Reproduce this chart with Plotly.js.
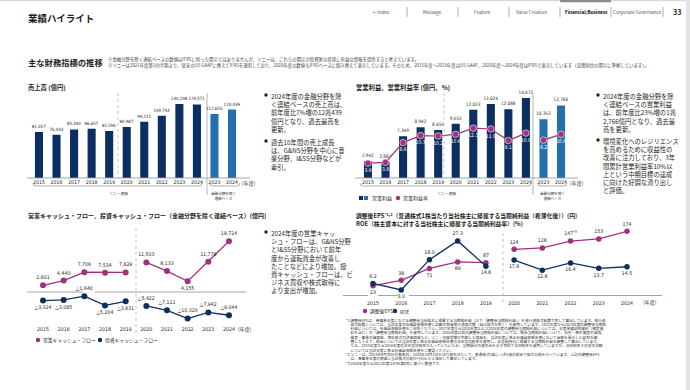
<!DOCTYPE html>
<html><head><meta charset="utf-8">
<script src="https://cdn.plot.ly/plotly-3.0.1.min.js"></script>
<style>html,body{margin:0;padding:0;background:#fff;}#chart{width:690px;height:390px;}</style>
</head><body><div id="chart"></div>
<script>
// ---------------- data ----------------
const salesCats   = ["2015","2016","2017","2018","2019","2020","2021","2022","2023","2024","2023x","2024x"];
const salesLabels = ["2015","2016","2017","2018","2019","2020","2021","2022","2023","2024","2023","2024"];
const sales    = [81057,76033,85440,86657,82596,89987,99215,109744,130208,129571,112650,120439];
const opIncome = [2942,2887,7349,8942,8455,9553,12023,13024,12088,14072,10353,12766];
const opMargin = [3.6,3.8,8.6,10.3,10.2,10.6,12.1,11.9,9.1,10.9,9.2,10.6];
const years    = ["2015","2016","2017","2018","2019","2020","2021","2022","2023","2024"];
const opCF     = [2601,4440,7706,7534,7629,11503,8133,4155,11778,19724];
const invCF    = [-3324,-3085,-1640,-5204,-3631,-5422,-7111,-10320,-7942,-9044];
const eps      = [23,38,71,89,87,124,128,147,153,174];
const epsNotes = ["","","","","","","","*3","",""];
const roe      = [6.2,3.0,18.0,27.3,14.8,17.8,12.8,16.4,13.7,14.5];

// ---------------- helpers / styles ----------------
const W=690,H=390;
const px=x=>x/W, py=y=>1-y/H;
const FONT="'Noto Sans CJK JP','Noto Sans',sans-serif";
const NUMFONT="'Liberation Sans Narrow','DejaVu Sans Condensed','Noto Sans CJK JP',sans-serif";
const NAVY='#0c2f62', BLUE='#2370ad', MAG='#a3307f', LINE='#9b9b9b', TXT='#231f20';
const fmt=v=>v.toLocaleString('en-US');
const cfFmt=v=>v<0?'△'+fmt(-v):fmt(v);
const SPLIT=5, GROUP=10;

function ann(x,y,text,size,o={}){
  return {xref:'paper',yref:'paper',x:px(x),y:py(y),text,showarrow:false,
    xanchor:o.xa||'left',yanchor:o.ya||'middle',align:o.align||'left',borderpad:0,
    font:{family:FONT,size,color:o.color||TXT,weight:o.weight||'normal'}};
}
function ln(x0,y0,x1,y1,color,width,dash){
  return {type:'line',xref:'paper',yref:'paper',x0:px(x0),y0:py(y0),x1:px(x1),y1:py(y1),
    line:{color,width,dash:dash||'solid'},layer:'above'};
}
function rect(x0,y0,x1,y1,color){
  return {type:'rect',xref:'paper',yref:'paper',x0:px(x0),y0:py(y0),x1:px(x1),y1:py(y1),
    line:{width:0},fillcolor:color};
}
function circ(cx,cy,r,color){
  return {type:'circle',xref:'paper',yref:'paper',x0:px(cx-r),y0:py(cy+r),x1:px(cx+r),y1:py(cy-r),
    line:{width:0},fillcolor:color};
}
function bracket(x0,x1,y){
  const r=3;
  const P=(x,yy)=>px(x)+','+py(yy);
  return {type:'path',xref:'paper',yref:'paper',
    path:'M'+P(x0,y-r)+' Q'+P(x0,y)+' '+P(x0+r,y)+' L'+P(x1-r,y)+' Q'+P(x1,y)+' '+P(x1,y-r),
    line:{color:'#777',width:0.6}};
}

const tickFont={family:NUMFONT,size:5.2,color:TXT};
function catX(domain,anchor,cats,labels,standoff){
  return {domain:[px(domain[0]),px(domain[1])],anchor,type:'category',categoryarray:cats,
    tickmode:'array',tickvals:cats,ticktext:labels,range:[-0.5,cats.length-0.5],
    showgrid:false,zeroline:false,showline:false,ticks:'',tickangle:0,tickfont:tickFont,
    ticklabelstandoff:standoff||0,fixedrange:true};
}
function valY(top,bottom,range,anchor,extra){
  return Object.assign({domain:[py(bottom),py(top)],anchor,range,visible:false,fixedrange:true},extra||{});
}

const barColors = salesCats.map((c,i)=>i<GROUP?NAVY:BLUE);
const txtFont=(c,s)=>({family:NUMFONT,size:s||5.2,color:c||TXT});

const traces=[];
// Chart 1: sales
traces.push({type:'bar',x:salesCats,y:sales,xaxis:'x',yaxis:'y',width:0.46,
  marker:{color:barColors},texttemplate:'%{y:,}',textposition:'outside',textfont:txtFont(TXT,4.4),
  constraintext:'none',cliponaxis:false,hoverinfo:'skip'});
// Chart 2: operating income + margin
traces.push({type:'bar',x:salesCats,y:opIncome,xaxis:'x2',yaxis:'y2',width:0.46,
  marker:{color:barColors},texttemplate:'%{y:,}',textposition:'outside',textfont:txtFont(TXT,4.6),
  constraintext:'none',cliponaxis:false,hoverinfo:'skip'});
[[0,GROUP],[GROUP,salesCats.length]].forEach(([a,b])=>{
  traces.push({type:'scatter',mode:'lines+markers+text',x:salesCats.slice(a,b),y:opMargin.slice(a,b),
    xaxis:'x2',yaxis:'y3',line:{color:MAG,width:1.2},
    marker:{color:MAG,size:6.5,line:{color:'#fff',width:0.6}},
    text:opMargin.slice(a,b).map(v=>v.toFixed(1)),textposition:'bottom center',
    textfont:txtFont('#ffffff',5),cliponaxis:false,hoverinfo:'skip'});
});
// Chart 3: cash flows
const opCFPos=['top center','top center','top center','top center','top center','top center','top center','bottom center','top center','top center'];
const invCFPos=['bottom center','bottom center','top center','bottom center','bottom center','top center','top center','top center','top center','top center'];
[[0,SPLIT],[SPLIT,years.length]].forEach(([a,b])=>{
  traces.push({type:'scatter',mode:'lines+markers+text',x:years.slice(a,b),y:opCF.slice(a,b),
    xaxis:'x3',yaxis:'y4',line:{color:MAG,width:1.3},marker:{color:MAG,size:6},
    text:opCF.slice(a,b).map(cfFmt),textposition:opCFPos.slice(a,b),textfont:txtFont(),
    cliponaxis:false,hoverinfo:'skip'});
  traces.push({type:'scatter',mode:'lines+markers+text',x:years.slice(a,b),y:invCF.slice(a,b),
    xaxis:'x3',yaxis:'y4',line:{color:NAVY,width:1.3},marker:{color:NAVY,size:6},
    text:invCF.slice(a,b).map(cfFmt),textposition:invCFPos.slice(a,b),textfont:txtFont(),
    cliponaxis:false,hoverinfo:'skip'});
});
// Chart 4: EPS / ROE
const epsPos=['bottom center','top center','bottom center','bottom center','top center','top center','top center','top center','top center','top center'];
const roePos=['top center','bottom center','top center','top center','bottom center','bottom center','bottom center','bottom center','bottom center','bottom center'];
[[0,SPLIT],[SPLIT,years.length]].forEach(([a,b])=>{
  traces.push({type:'scatter',mode:'lines+markers+text',x:years.slice(a,b),y:eps.slice(a,b),
    xaxis:'x4',yaxis:'y5',line:{color:MAG,width:1.3},marker:{color:MAG,size:5.5},
    text:eps.slice(a,b).map((v,i)=>String(v)+(epsNotes[a+i]?'<sup>'+epsNotes[a+i]+'</sup>':'')),
    textposition:epsPos.slice(a,b),textfont:txtFont(),cliponaxis:false,hoverinfo:'skip'});
  traces.push({type:'scatter',mode:'lines+markers+text',x:years.slice(a,b),y:roe.slice(a,b),
    xaxis:'x4',yaxis:'y6',line:{color:NAVY,width:1.3},marker:{color:NAVY,size:5.5},
    text:roe.slice(a,b).map(v=>v.toFixed(1)),textposition:roePos.slice(a,b),textfont:txtFont(),
    cliponaxis:false,hoverinfo:'skip'});
});

// ---------------- annotations ----------------
const A=[];
// header
A.push(ann(27,18,'業績ハイライト',9.5,{weight:'bold'}));
const nav=[['←Index',381],['Message',432],['Feature',483],['Value Creation',531],['Financial/Business',586],['Corporate Governance',637]];
nav.forEach(([t,x])=>A.push(ann(x,12,t,4.6,{xa:'center',color:t==='Financial/Business'?'#000':'#555',weight:t==='Financial/Business'?'bold':'normal'})));
A.push(ann(677,12,'33',7,{xa:'center',weight:'bold'}));
A.push(ann(27,62,'主な財務指標の推移',8.3,{weight:'bold'}));
A.push(ann(107,59,'※金融分野を除く連結ベースの数値はIFRSに則った開示ではありませんが、ソニーは、これらの開示が投資家の皆様に有益な情報を提供すると考えています。',4.4,{color:'#444'}));
A.push(ann(107,65.5,'※ソニーは2021年度第1四半期より、従来のUS GAAPに替えてIFRSを適用しており、2020年度の数値もIFRSベースに組み替えて表示しています。そのため、2015年度～2019年度はUS GAAP、2020年度～2024年度はIFRSで表示しています（決算短信の開示に準拠しています）。',4.4,{color:'#444'}));

// chart titles
A.push(ann(27,88,'売上高 (億円)',6.3,{weight:'bold'}));
A.push(ann(355,88,'営業利益、営業利益率 (億円、%)',6.3,{weight:'bold'}));
A.push(ann(27,215,'営業キャッシュ・フロー、投資キャッシュ・フロー（金融分野を除く連結ベース）(億円)',6,{weight:'bold'}));
A.push(ann(355,215,'調整後EPS<sup>*1,2</sup>（普通株式1株当たり当社株主に帰属する当期純利益（希薄化後））(円)',5.8,{weight:'bold'}));
A.push(ann(355,224,'ROE（株主資本に対する当社株主に帰属する当期純利益率）(%)',5.8,{weight:'bold'}));

// year units
A.push(ann(241,183,'(年度)',5));
A.push(ann(569,183,'(年度)',5));
A.push(ann(237,329,'(年度)',5));
A.push(ann(642,302,'(年度)',5));

// bracket labels
A.push(ann(118,193,'ソニー連結',3.8,{xa:'center'}));
A.push(ann(223,196,'金融分野を除く<br>連結ベース',3.6,{xa:'center',align:'center'}));
A.push(ann(446,193,'ソニー連結',3.8,{xa:'center'}));
A.push(ann(552,196,'金融分野を除く<br>連結ベース',3.6,{xa:'center',align:'center'}));

// bullets
const para=(x,yTop,lines)=>A.push(ann(x,yTop,lines.join('<br>'),6.3,{ya:'top'}));
para(270,91,['2024年度の金融分野を除','く連結ベースの売上高は、','前年度比7%増の12兆439','億円となり、過去最高を','更新。']);
para(270,137,['過去10年間の売上成長','は、G&NS分野を中心に音','楽分野、I&SS分野などが','牽引。']);
para(602,91,['2024年度の金融分野を除','く連結ベースの営業利益','は、前年度比23%増の1兆','2,766億円となり、過去最','高を更新。']);
para(602,136,['環境変化へのレジリエンス','を高めるために収益性の','改善に注力しており、3年','間累計営業利益率10%以','上という中期目標の達成','に向けた好調な滑り出し','と評価。']);
para(270,228,['2024年度の営業キャッ','シュ・フローは、G&NS分野','とI&SS分野において前年','度から運転資金が改善し','たことなどにより増加。投','資キャッシュ・フローは、ビ','ジネス買収や株式取得に','より支出が増加。']);

// legends
A.push(ann(371,198,'営業利益',5));
A.push(ann(402,198,'営業利益率',5));
A.push(ann(42,340,'営業キャッシュ・フロー',4.8));
A.push(ann(104,340,'投資キャッシュ・フロー',4.8));
A.push(ann(369,311,'調整後EPS',4.8));
A.push(ann(399,311,'ROE',4.8));

// footnotes
const notes=[
'*1 調整後EPSは、各事業年度における調整後当社株主に帰属する当期純利益（以下「調整後当期純利益」）を発行済株式総数で除して算出しています。発行済',
'　 株式総数については、当該年度の有価証券報告書に記載の期末発行済株式数（自己株式を除く）を使用しています。2021年度から2023年度の調整後当期純',
'　 利益については、有価証券報告書をご参照ください。2017年度から2020年度および2024年度の調整後当期純利益については、年度業績説明資料（補足資',
'　 料を含む）の「調整後当期純利益」を使用しています。2016年度以前の調整後当期純利益については、報告当期純利益について、有形・無形資産の減損、',
'　 資産・事業の譲渡益、保有株式の評価損益など、ソニーの経営陣が判断した損益を、当該年度に係る有価証券報告書において金額を開示した項目を調',
'　 整したうえで、税金については当該年度に係る有価証券報告書の法定実効税率を適用し、非支配持分に帰属する当期純利益を調整して算出しています。',
'　 なお、2015年度から2016年度の法定実効税率が入っていないため、当期開示の値のみを示す目的で法定税率を使用していますが、法定税率その他の詳細',
'　 については当該年度に係る有価証券報告書をご確認ください。',
'*2 ソニーは、2024年9月30日を基準日、2024年10月1日を効力発生日として、普通株式1株につき5株の割合で株式分割を行っています。上記の調整後EPS',
'　 は、各事業年度の期首に当該株式分割が行われたと仮定して算定しています。',
'*3 2020年度から2022年度はIFRS第4号に基づく数値です。'];
notes.forEach((t,i)=>A.push(ann(345,320+i*4.3,t,3.7,{color:'#333'})));

// ---------------- shapes ----------------
const S=[];
S.push(rect(0,0,690,1.2,'#d9d9d9'));
S.push(rect(560,0,611,2.2,'#8c8c8c'));
S.push(rect(686,0,690,390,'#e3e3e3'));
[407,458,509,560,611,663].forEach(x=>S.push(ln(x,7,x,17,'#777',0.6)));
// chart 1
S.push(ln(27,178,250,178,LINE,0.9));
S.push(ln(118,93,118,178,'#aaa',0.7,'dot'));
S.push(ln(207,93,207,195,'#888',0.6));
S.push(bracket(33,202,186));
S.push(bracket(210,240,186));
// chart 2
S.push(ln(355,178,578,178,LINE,0.9));
S.push(ln(444,93,444,178,'#aaa',0.7,'dot'));
S.push(ln(533,93,533,195,'#888',0.6));
S.push(bracket(360,531,186));
S.push(bracket(538,567,186));
S.push(rect(359,196,363,200,NAVY));
S.push(rect(364,196,368,200,BLUE));
S.push(circ(398,198,2.2,MAG));
// chart 3
S.push(ln(27,292,83,292,LINE,0.9));
S.push(ln(95,292,246,292,LINE,0.9));
S.push(ln(136,228,136,333,'#aaa',0.7,'dot'));
S.push(circ(38,340,2.2,MAG));
S.push(circ(100,340,2.2,NAVY));
// chart 4
S.push(ln(343,295.5,368,295.5,LINE,0.9));
S.push(ln(378,295.5,398,295.5,LINE,0.9));
S.push(ln(409,295.5,662,295.5,LINE,0.9));
S.push(ln(503,233,503,303,'#aaa',0.7,'dot'));
S.push(circ(365,311,2.2,MAG));
S.push(circ(395,311,2.2,NAVY));
// bullet dots
[[266,95],[266,141],[598,95],[598,140],[266,232]].forEach(([x,y])=>S.push(circ(x,y,1.7,'#222')));

const layout={
  width:W,height:H,margin:{l:0,r:0,t:0,b:0},paper_bgcolor:'#fff',plot_bgcolor:'rgba(0,0,0,0)',
  showlegend:false,font:{family:FONT,color:TXT},barmode:'group',
  xaxis:catX([30.2,240.8],'y',salesCats,salesLabels),
  yaxis:valY(90,178,[0,154900],'x'),
  xaxis2:catX([359.2,569.8],'y2',salesCats,salesLabels),
  yaxis2:valY(90,178,[0,15493],'x2'),
  yaxis3:valY(90,178,[0,21.36],'x2',{overlaying:'y2'}),
  xaxis3:catX([32.7,239.3],'y4',years,years,2),
  yaxis4:valY(228,323,[-12060,24900],'x3'),
  xaxis4:catX([358.9,641.1],'y5',years,years,3),
  yaxis5:valY(228,296,[-5.6,183.3],'x4'),
  yaxis6:valY(228,296,[0,33.7],'x4',{overlaying:'y5'}),
  annotations:A,shapes:S
};
Plotly.newPlot('chart',traces,layout,{displayModeBar:false,staticPlot:true});
</script></body></html>
